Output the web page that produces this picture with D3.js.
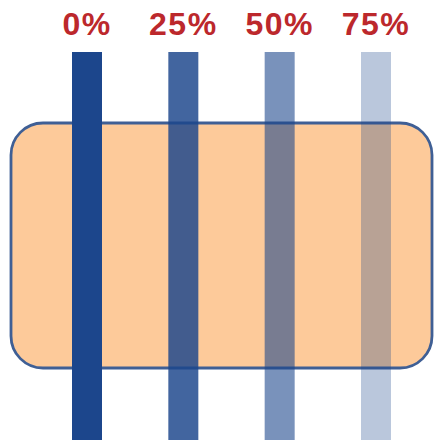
<!DOCTYPE html>
<html>
<head>
<meta charset="utf-8">
<script src="https://cdn.jsdelivr.net/npm/d3@7"></script>
<style>
  body { margin: 0; background: #fff; }
</style>
</head>
<body>
<svg width="434" height="446"></svg>
<script>
// transparency levels shown on each bar
const labels = ["0%", "25%", "50%", "75%"];
const transparency = [0, 0.25, 0.5, 0.75];

const svg = d3.select("svg");
const barWidth = 30;

const x = d3.scalePoint()
  .domain(labels)
  .range([87, 376]);

const y = d3.scaleLinear()
  .domain([0, 1])
  .range([52, 440]);

// transparency -> fill opacity (as it came out in the rendered original)
const opacity = d3.scalePow()
  .exponent(1.3)
  .domain([0, 0.75])
  .range([1, 0.3]);

// background rounded box
svg.append("rect")
  .attr("x", 11)
  .attr("y", 123)
  .attr("width", 421)
  .attr("height", 245)
  .attr("rx", 32)
  .attr("ry", 32)
  .attr("fill", "#fdca9a")
  .attr("stroke", "#3f5f95")
  .attr("stroke-width", 2.8);

svg.selectAll(".bar")
  .data(labels.map((l, i) => ({ label: l, t: transparency[i] })))
  .join("rect")
  .attr("class", "bar")
  .attr("x", d => x(d.label) - barWidth / 2)
  .attr("y", y(0))
  .attr("width", barWidth)
  .attr("height", y(1) - y(0))
  .attr("fill", "#1c468c")
  .attr("fill-opacity", d => opacity(d.t));

svg.selectAll(".lbl")
  .data(labels)
  .join("text")
  .attr("class", "lbl")
  .attr("x", d => x(d))
  .attr("y", 35)
  .attr("text-anchor", "middle")
  .attr("font-family", "Liberation Sans, Arial, sans-serif")
  .attr("font-weight", "bold")
  .attr("font-size", "32px")
  .attr("letter-spacing", "1.5px")
  .attr("fill", "#bc282c")
  .text(d => d);
</script>
</body>
</html>
